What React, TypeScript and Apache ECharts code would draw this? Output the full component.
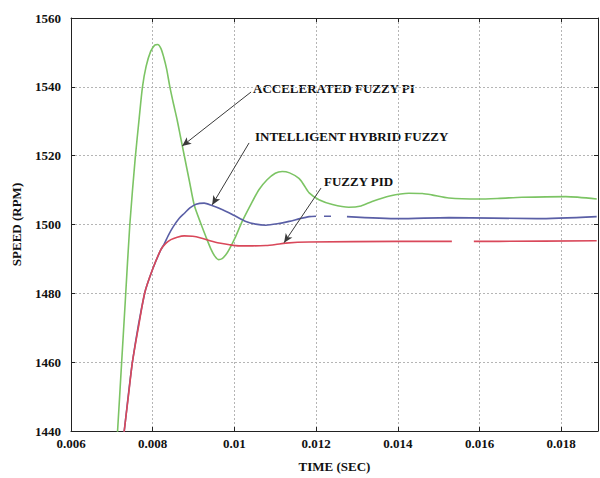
import React, { useEffect, useRef } from "react";
import * as echarts from "echarts";

// Speed response of three controllers (time in seconds, speed in RPM)
const accelT = [0.00708, 0.00714, 0.00724, 0.00733, 0.00744, 0.00757, 0.00767, 0.00775, 0.00784, 0.00795, 0.00805, 0.00812, 0.0082, 0.00827, 0.00834, 0.00842, 0.00851, 0.0086, 0.00868, 0.00877, 0.0089, 0.00902, 0.00918, 0.0093, 0.00942, 0.00952, 0.00961, 0.0097, 0.00979, 0.00987, 0.01003, 0.01019, 0.0104, 0.0106, 0.0108, 0.011, 0.01117, 0.01135, 0.01158, 0.0117, 0.01183, 0.01207, 0.0124, 0.0128, 0.0131, 0.01337, 0.0138, 0.01427, 0.0146, 0.01483, 0.01525, 0.01598, 0.0165, 0.01704, 0.01811, 0.01887];
const accelV = [1429, 1440, 1460, 1478, 1500, 1519, 1531, 1540, 1546, 1550.3, 1552.1, 1552.3, 1551.2, 1548.6, 1545.2, 1540, 1535, 1530.3, 1525.5, 1520.2, 1512.5, 1505.5, 1500.2, 1496.5, 1493, 1490.8, 1489.8, 1490.1, 1491.2, 1492.7, 1496.5, 1500.9, 1505.8, 1510.1, 1513, 1514.9, 1515.4, 1515, 1513.4, 1511.5, 1509.2, 1507.2, 1505.8, 1505.0, 1505.4, 1506.7, 1508.3, 1509.1, 1509, 1508.6, 1507.7, 1507.4, 1507.6, 1507.9, 1508.1, 1507.4];

const hybridT = [0.007186, 0.007303, 0.007506, 0.007804, 0.007995, 0.0082, 0.00828, 0.00838, 0.0085, 0.00865, 0.00877, 0.00891, 0.00906, 0.00926, 0.00945, 0.00971, 0.01, 0.01028, 0.01052, 0.01077, 0.01105, 0.01134, 0.0116, 0.01183, 0.011997, 0.012095, 0.012193, 0.012364, 0.01256, 0.012755, 0.014027, 0.01525, 0.0174, 0.018868];
const hybridV = [1428.9, 1440, 1460.2, 1480.1, 1486.9, 1492.7, 1494.3, 1496.8, 1499.3, 1501.8, 1503.2, 1504.8, 1505.9, 1506.2, 1505.5, 1504.3, 1502.6, 1500.9, 1500.1, 1499.8, 1500.2, 1500.9, 1501.7, 1502.3, 1502.4, null, 1502.4, 1502.4, null, 1502.3, 1501.7, 1502.0, 1501.7, 1502.3];

const pidT = [0.007186, 0.007303, 0.007406, 0.007506, 0.00766, 0.007804, 0.007995, 0.0082, 0.00832, 0.008445, 0.0086, 0.00877, 0.00898, 0.009178, 0.0094, 0.009626, 0.00988, 0.010115, 0.01045, 0.010768, 0.01101, 0.011257, 0.011826, 0.014027, 0.015323, 0.0156, 0.015861, 0.016472, 0.018868];
const pidV = [1428.9, 1440, 1450.3, 1460.2, 1470.8, 1480.1, 1486.9, 1492.7, 1494.5, 1495.6, 1496.3, 1496.7, 1496.6, 1496.1, 1495.3, 1494.6, 1494.1, 1493.8, 1493.8, 1493.9, 1494.2, 1494.6, 1494.9, 1495.1, 1495.1, null, 1495.1, 1495.1, 1495.3];

// Callout labels and the arrows pointing at each curve ([from time, from speed, to time, to speed])
const calloutLabels = ["ACCELERATED FUZZY PI", "INTELLIGENT HYBRID FUZZY", "FUZZY PID"];
const calloutArrows = [
  [0.010408, 1538.5, 0.008721, 1522.8],
  [0.010359, 1523.7, 0.009455, 1505.7],
  [0.01212, 1510.6, 0.011215, 1494.7],
];

const pairs = (t: number[], v: (number | null)[]) => t.map((x, i) => [x, v[i] === null ? "-" : v[i]]);

const FONT = '"Liberation Serif", "Times New Roman", serif';

export default function App() {
  const ref = useRef<HTMLDivElement>(null);

  useEffect(() => {
    document.body.style.margin = "0";
    const chart = echarts.init(ref.current!, null, { renderer: "svg" });

    const labelStyle = { fontFamily: FONT, fontWeight: "bold" as const, fontSize: 13, color: "#111" };
    const frameAxis = {
      axisLine: { show: true, lineStyle: { color: "#222", width: 1 } },
      axisTick: { show: true, inside: true, length: 4, lineStyle: { color: "#222" } },
      axisLabel: { show: false },
      splitLine: { show: false },
    };
    const curve = (color: string) => ({
      type: "line" as const,
      showSymbol: false,
      smooth: 0.25,
      lineStyle: { color, width: 1.6 },
    });

    chart.setOption({
      animation: false,
      backgroundColor: "#fff",
      grid: { left: 71, right: 2, top: 18, bottom: 46 },
      xAxis: [
        {
          type: "value",
          min: 0.006,
          max: 0.0189,
          interval: 0.002,
          name: "TIME (SEC)",
          nameLocation: "middle",
          nameGap: 29,
          nameTextStyle: { ...labelStyle },
          axisLine: { show: true, lineStyle: { color: "#222", width: 1 } },
          axisTick: { show: true, inside: true, length: 4, lineStyle: { color: "#222" } },
          axisLabel: { ...labelStyle, margin: 6, showMaxLabel: false, formatter: (v: number) => String(+v.toFixed(4)) },
          splitLine: { show: true, lineStyle: { color: "#b5b5b5", type: [2, 2], width: 1 } },
        },
        { type: "value", position: "top", min: 0.006, max: 0.0189, interval: 0.002, ...frameAxis },
      ],
      yAxis: [
        {
          type: "value",
          min: 1440,
          max: 1560,
          interval: 20,
          name: "SPEED (RPM)",
          nameLocation: "middle",
          nameRotate: 90,
          nameGap: 48,
          nameTextStyle: { ...labelStyle },
          axisLine: { show: true, lineStyle: { color: "#222", width: 1 } },
          axisTick: { show: true, inside: true, length: 4, lineStyle: { color: "#222" } },
          axisLabel: { ...labelStyle, margin: 10, formatter: (v: number) => String(v) },
          splitLine: { show: true, lineStyle: { color: "#b5b5b5", type: [2, 2], width: 1 } },
        },
        { type: "value", position: "right", min: 1440, max: 1560, interval: 20, ...frameAxis },
      ],
      series: [
        { name: "Accelerated Fuzzy PI", data: pairs(accelT, accelV), ...curve("#7cc464") },
        { name: "Intelligent Hybrid Fuzzy", data: pairs(hybridT, hybridV), ...curve("#5a5fa6") },
        { name: "Fuzzy PID", data: pairs(pidT, pidV), ...curve("#d9485a") },
        {
          name: "callouts",
          type: "line",
          data: [],
          markLine: {
            silent: true,
            symbol: ["none", "arrow"],
            symbolSize: [6, 9],
            label: { show: false },
            lineStyle: { color: "#3a3a3a", width: 1, type: "solid" },
            data: calloutArrows.map((a) => [{ coord: [a[0], a[1]] }, { coord: [a[2], a[3]] }]),
          },
        },
      ],
      graphic: [
        { type: "text", left: 253, top: 82, style: { text: calloutLabels[0], font: `bold 13px ${FONT}`, fill: "#111" } },
        { type: "text", left: 255, top: 130, style: { text: calloutLabels[1], font: `bold 13px ${FONT}`, fill: "#111" } },
        { type: "text", left: 324, top: 175, style: { text: calloutLabels[2], font: `bold 13px ${FONT}`, fill: "#111" } },
      ],
    });

    return () => chart.dispose();
  }, []);

  return <div ref={ref} style={{ width: 600, height: 478 }} />;
}
